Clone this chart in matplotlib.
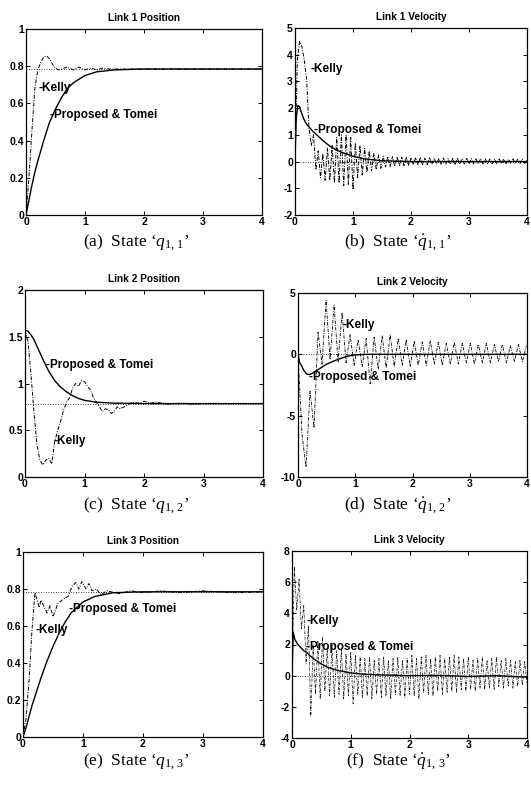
import numpy as np
import matplotlib
matplotlib.use("Agg")
import matplotlib.pyplot as plt

plt.rcParams["font.family"] = ["Liberation Sans", "DejaVu Sans"]
plt.rcParams["axes.unicode_minus"] = False
plt.rcParams["mathtext.fontset"] = "custom"
plt.rcParams["mathtext.rm"] = "Liberation Serif"
plt.rcParams["mathtext.it"] = "Liberation Serif:italic"

# ------------------------------------------------------------
# Data
# ------------------------------------------------------------
pos_ref = 0.785   # desired position (pi/4)
vel_ref = 0.0

# Link 1 position
t_prop_a = [0, 0.05, 0.1, 0.15, 0.2, 0.3, 0.4, 0.5, 0.6, 0.7, 0.8, 1.0, 1.2, 1.5, 2.0, 4.0]
y_prop_a = [0, 0.08, 0.16, 0.23, 0.29, 0.40, 0.50, 0.57, 0.63, 0.68, 0.71, 0.75, 0.77, 0.78, 0.785, 0.785]
t_kelly_a = [0, 0.05, 0.1, 0.15, 0.2, 0.25, 0.3, 0.35, 0.4, 0.45, 0.5, 0.55, 0.6, 0.7, 0.8,
             0.9, 1.0, 1.1, 1.2, 1.3, 1.4, 1.5, 4.0]
y_kelly_a = [0, 0.2, 0.45, 0.68, 0.78, 0.82, 0.85, 0.855, 0.84, 0.81, 0.79, 0.78, 0.785, 0.795,
             0.78, 0.795, 0.78, 0.79, 0.78, 0.79, 0.785, 0.785, 0.785]

# Link 1 velocity
t_prop_b = [0, 0.02, 0.05, 0.08, 0.1, 0.15, 0.2, 0.3, 0.4, 0.5, 0.6, 0.7, 0.8, 1.0, 1.2, 1.5, 2.0, 4.0]
y_prop_b = [0, 1.6, 2.1, 2.05, 1.9, 1.6, 1.4, 1.15, 0.95, 0.75, 0.58, 0.45, 0.35, 0.2, 0.1, 0.03, 0, 0]
dt_kelly_b = 0.04
y_kelly_b = [0.0, 3.8, 4.5, 4.3, 3.8, 3.1, 1.3, 0.6, 1.0, -0.3, 0.4, -0.6, 0.3, -0.7, 0.5, -0.7, 0.6, -0.8, 0.9, -0.8,
             1.0, -0.9, 1.0, -0.85, 0.9, -1.05, 0.7, -0.6, 0.6, -0.5,
             0.5, -0.4, 0.4, -0.35, 0.3, -0.3, 0.25, -0.25, 0.2, -0.2,
             0.2, -0.2, 0.18, -0.18, 0.18, -0.15, 0.17, -0.15, 0.15, -0.15,
             0.15, -0.12, 0.15, -0.12, 0.14, -0.12, 0.13, -0.12, 0.14, -0.1,
             0.13, -0.1, 0.12, -0.1, 0.13, -0.1, 0.12, -0.1, 0.12, -0.1,
             0.12, -0.1, 0.11, -0.09, 0.12, -0.09, 0.11, -0.09, 0.1, -0.09,
             0.11, -0.08, 0.1, -0.08, 0.1, -0.08, 0.1, -0.08, 0.1, -0.08,
             0.1, -0.08, 0.09, -0.07, 0.1, -0.07, 0.09, -0.07, 0.09, -0.07,
             0.05]

# Link 2 position
t_prop_c = [0, 0.05, 0.1, 0.15, 0.2, 0.25, 0.3, 0.4, 0.5, 0.6, 0.7, 0.8, 0.9, 1.0, 1.2, 1.5, 2.0, 4.0]
y_prop_c = [1.57, 1.56, 1.52, 1.47, 1.40, 1.33, 1.26, 1.13, 1.03, 0.96, 0.91, 0.87, 0.84, 0.82, 0.80, 0.79, 0.785, 0.785]
t_kelly_c = [0, 0.05, 0.1, 0.15, 0.2, 0.25, 0.3, 0.35, 0.4, 0.45, 0.5, 0.55, 0.6, 0.65, 0.7, 0.75, 0.8,
             0.85, 0.9, 0.95, 1.0, 1.05, 1.1, 1.15, 1.2, 1.25, 1.3, 1.35, 1.4, 1.45, 1.5, 1.55, 1.6,
             1.7, 1.8, 1.9, 2.0, 2.1, 2.2, 2.4, 2.6, 2.8, 3.0, 4.0]
y_kelly_c = [1.57, 1.45, 1.1, 0.7, 0.35, 0.18, 0.13, 0.18, 0.2, 0.14, 0.38, 0.5, 0.6, 0.72, 0.8, 0.85, 0.95,
             1.0, 0.97, 1.03, 1.02, 0.97, 0.93, 0.85, 0.8, 0.75, 0.7, 0.73, 0.72, 0.68, 0.7, 0.75, 0.73,
             0.76, 0.8, 0.79, 0.81, 0.79, 0.8, 0.78, 0.79, 0.78, 0.785, 0.785]

# Link 2 velocity
t_prop_d = [0, 0.03, 0.06, 0.1, 0.15, 0.2, 0.25, 0.3, 0.4, 0.5, 0.6, 0.7, 0.8, 0.9, 1.0, 1.2, 4.0]
y_prop_d = [0, -0.7, -0.9, -1.3, -1.6, -1.65, -1.55, -1.4, -1.1, -0.8, -0.6, -0.4, -0.25, -0.12, -0.05, 0, 0]
dt_kelly_d = 0.07
y_kelly_d = [0.0, -6.5, -9.2, -3.0, -6.0, 1.8, -0.8, 4.4, -0.4, 4.0, -0.6, 3.4, -0.7, 1.6,
             -0.9, 1.2, -1.0, 1.3, -2.4, 1.4, -1.2, 1.5, -1.1, 1.6, -1.0, 1.3,
             -0.9, 1.2, -1.0, 1.1, -0.9, 1.0, -0.9, 1.1, -0.8, 1.0, -0.9, 0.9,
             -0.8, 1.0, -0.8, 0.9, -0.7, 0.9, -0.8, 0.8, -0.7, 0.9, -0.7, 0.8,
             -0.6, 0.8, -0.7, 0.7, -0.6, 0.8, -0.6, 0.7]

# Link 3 position
t_prop_e = [0, 0.05, 0.1, 0.15, 0.2, 0.3, 0.4, 0.5, 0.6, 0.7, 0.8, 0.9, 1.0, 1.2, 1.5, 2.0, 4.0]
y_prop_e = [0, 0.05, 0.11, 0.17, 0.22, 0.32, 0.41, 0.49, 0.56, 0.62, 0.67, 0.70, 0.73, 0.76, 0.78, 0.785, 0.785]
t_kelly_e = [0, 0.05, 0.1, 0.15, 0.2, 0.27, 0.3, 0.4, 0.45, 0.5, 0.58, 0.65, 0.75, 0.82, 0.88, 0.93, 0.98,
             1.05, 1.1, 1.15, 1.22, 1.3, 1.4, 1.6, 1.8, 2.0, 2.3, 2.6, 3.0, 3.5, 4.0]
y_kelly_e = [0, 0.1, 0.3, 0.58, 0.78, 0.70, 0.74, 0.67, 0.71, 0.65, 0.72, 0.74, 0.76, 0.815, 0.835, 0.80, 0.84,
             0.80, 0.83, 0.79, 0.80, 0.77, 0.79, 0.775, 0.79, 0.78, 0.79, 0.78, 0.79, 0.78, 0.785]

# Link 3 velocity
t_prop_f = [0, 0.02, 0.05, 0.1, 0.15, 0.2, 0.25, 0.3, 0.4, 0.5, 0.6, 0.7, 0.8, 1.0, 1.2, 1.5, 2.0, 2.5, 3.0, 3.5, 4.0]
y_prop_f = [0, 2.8, 2.3, 2.0, 1.8, 1.6, 1.5, 1.3, 1.0, 0.75, 0.55, 0.42, 0.32, 0.18, 0.1, 0.05, 0.0, 0.02, -0.05, 0.0, -0.1]
dt_kelly_f = 0.04
y_kelly_f = [0.0, 7.0, 4.2, 6.2, 3.0, 4.5, 0.8, 3.2, -2.6, 2.0, -1.2, 2.2, -1.5, 2.5, -1.0, 1.8, -1.3, 2.0, -1.4, 1.6,
             -1.2, 1.7, -1.5, 1.4, -1.3, 1.5, -1.8, 1.3, -1.2, 1.2,
             -1.4, 1.1, -1.3, 1.2, -1.5, 1.0, -1.2, 1.1, -1.4, 1.2,
             -1.3, 1.0, -1.5, 1.1, -1.2, 1.2, -1.3, 1.0, -1.4, 1.1,
             -1.2, 1.3, -1.3, 1.1, -1.5, 1.2, -1.1, 1.3, -1.2, 1.1,
             -1.3, 1.2, -1.0, 1.3, -1.2, 1.1, -1.1, 1.2, -1.0, 1.3,
             -1.1, 1.2, -0.9, 1.1, -1.0, 1.2, -0.9, 1.0, -1.0, 1.1,
             -0.8, 1.2, -0.9, 1.0, -0.8, 1.1, -0.9, 1.2, -0.7, 1.0,
             -0.8, 1.1, -0.7, 1.0, -0.8, 0.9, -0.7, 1.0, -0.6, 0.9,
             -0.5]

titles = ["Link 1 Position", "Link 1 Velocity", "Link 2 Position",
          "Link 2 Velocity", "Link 3 Position", "Link 3 Velocity"]
captions = [r"(a)  State ‘$q_{1,\,1}$’", r"(b)  State ‘$\dot{q}_{1,\,1}$’",
            r"(c)  State ‘$q_{1,\,2}$’", r"(d)  State ‘$\dot{q}_{1,\,2}$’",
            r"(e)  State ‘$q_{1,\,3}$’", r"(f)  State ‘$\dot{q}_{1,\,3}$’"]

x_ticks = [0, 1, 2, 3, 4]


def sampled(dt, values):
    return np.arange(len(values)) * dt


# ------------------------------------------------------------
# Panel drawing
# ------------------------------------------------------------

def draw_panel(ax, t_prop, y_prop, t_kelly, y_kelly, ref, ylim, yticks, ylabels,
               title, kelly_at, prop_at, kelly_lw=0.7):
    ax.axhline(ref, color="black", lw=0.6, ls=(0, (1, 2)), zorder=1)
    ax.plot(t_kelly, y_kelly, color="black", lw=kelly_lw, ls=(0, (4, 1.5, 1, 1.5)), zorder=2)
    ax.plot(t_prop, y_prop, color="black", lw=1.0, zorder=3)

    ax.set_xlim(0, 4)
    ax.set_ylim(*ylim)
    ax.set_xticks(x_ticks)
    ax.set_xticklabels([str(v) for v in x_ticks], fontweight="bold")
    ax.set_yticks(yticks)
    ax.set_yticklabels(ylabels, fontweight="bold")
    ax.tick_params(direction="in", top=True, right=True, length=3, width=0.7,
                   labelsize=7.5, pad=1.5)
    for sp in ax.spines.values():
        sp.set_linewidth(0.9)
    ax.set_title(title, fontsize=7.3, fontweight="bold", pad=6)

    ax.text(kelly_at[0], kelly_at[1], "-Kelly", fontsize=8.5, fontweight="bold",
            va="center", ha="left", zorder=4)
    ax.text(prop_at[0], prop_at[1], "-Proposed & Tomei", fontsize=8.5, fontweight="bold",
            va="center", ha="left", zorder=4)


fig = plt.figure(figsize=(5.31, 7.90), dpi=100)
W, H = 531.0, 790.0


def add_axes(left, top, right, bottom):
    return fig.add_axes([left / W, 1 - bottom / H, (right - left) / W, (bottom - top) / H])


ax_a = add_axes(26, 29, 262, 215)
ax_b = add_axes(295, 28, 527, 215)
ax_c = add_axes(25, 290, 263, 477)
ax_d = add_axes(298, 293, 527, 477)
ax_e = add_axes(23, 552, 263, 737)
ax_f = add_axes(292, 551, 527, 738)

pos_ticks = [0, 0.2, 0.4, 0.6, 0.8, 1]
pos_labels = ["0", "0.2", "0.4", "0.6", "0.8", "1"]

draw_panel(ax_a, t_prop_a, y_prop_a, t_kelly_a, y_kelly_a, pos_ref, (0, 1),
           pos_ticks, pos_labels, titles[0], (0.21, 0.684), (0.40, 0.54))
draw_panel(ax_b, t_prop_b, y_prop_b, sampled(dt_kelly_b, y_kelly_b), y_kelly_b, vel_ref, (-2, 5),
           [-2, -1, 0, 1, 2, 3, 4, 5], ["-2", "-1", "0", "1", "2", "3", "4", "5"],
           titles[1], (0.27, 3.46), (0.32, 1.19))
draw_panel(ax_c, t_prop_c, y_prop_c, t_kelly_c, y_kelly_c, pos_ref, (0, 2),
           [0, 0.5, 1, 1.5, 2], ["0", "0.5", "1", "1.5", "2"],
           titles[2], (0.48, 0.39), (0.36, 1.2))
draw_panel(ax_d, t_prop_d, y_prop_d, sampled(dt_kelly_d, y_kelly_d), y_kelly_d, vel_ref, (-10, 5),
           [-10, -5, 0, 5], ["-10", "-5", "0", "5"],
           titles[3], (0.77, 2.4), (0.2, -1.83), kelly_lw=0.6)
draw_panel(ax_e, t_prop_e, y_prop_e, t_kelly_e, y_kelly_e, pos_ref, (0, 1),
           pos_ticks, pos_labels, titles[4], (0.2, 0.578), (0.76, 0.69))
draw_panel(ax_f, t_prop_f, y_prop_f, sampled(dt_kelly_f, y_kelly_f), y_kelly_f, vel_ref, (-4, 8),
           [-4, -2, 0, 2, 4, 6, 8], ["-4", "-2", "0", "2", "4", "6", "8"],
           titles[5], (0.24, 3.52), (0.24, 1.85), kelly_lw=0.5)

# captions under each panel
cap_pos = [(136, 243), (398, 243), (136, 506), (398, 506), (136, 762), (398, 762)]
for (cx, cy), cap in zip(cap_pos, captions):
    fig.text(cx / W, 1 - cy / H, cap, fontsize=12.5, family="Liberation Serif",
             ha="center", va="center")

fig.savefig("out.png", dpi=100)
